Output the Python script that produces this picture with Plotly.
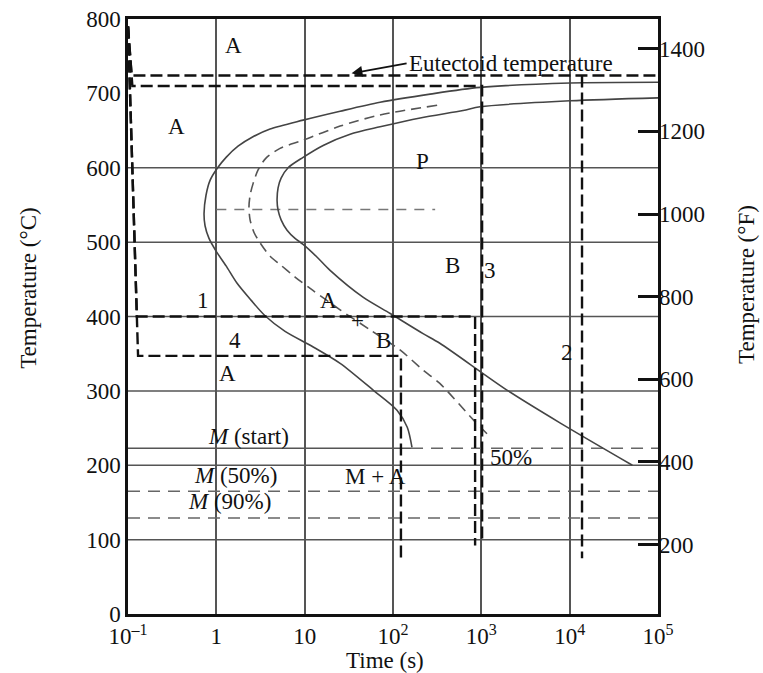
import math
import plotly.graph_objects as go

# ---------------- data ----------------
# Transformation curves (time in s, temperature in °C)
start_t = [100000, 10100, 968, 263, 71.4, 25.2, 9.6, 4.06, 2.54, 1.76, 1.29, 1.02, 0.849, 0.764, 0.726,
           0.745, 0.826, 0.993, 1.29, 1.71, 2.47, 3.56, 6.0, 12.1, 25.2, 59.6, 111, 145, 164]
start_T = [715, 714, 708, 699, 688, 676, 664, 652, 641, 629, 614, 599, 583, 563, 539,
           522, 505, 488, 468, 445, 422, 401, 380, 360, 337, 301, 274, 251, 224]

half_t = [316, 71.4, 25.2, 9.6, 5.26, 3.65, 2.97, 2.61, 2.41, 2.34, 2.41, 2.67, 3.13, 4.06, 5.26, 7.78,
          12.4, 25.2, 55, 120, 219, 339, 813, 1259]
half_T = [684, 671, 656, 637, 626, 613, 597, 579, 563, 547, 530, 513, 499, 481, 470, 453,
          435, 409, 382, 355, 328, 310, 261, 238]

finish_t = [100000, 10100, 968, 622, 203, 71.4, 32.7, 16.2, 9.6, 6.49, 5.41, 5.0, 4.87,
            5.0, 5.41, 6.32, 7.78, 9.6, 13.5, 19.4, 45.7, 93, 219, 339, 1950, 7760, 51300]
finish_T = [694, 690, 682, 677, 667, 655, 645, 630, 614, 600, 586, 573, 556,
            543, 530, 516, 505, 497, 481, 462, 426, 404, 377, 364, 301, 257, 200]

# Cooling paths
eut_t = [0.1, 0.11, 100000]
eut_T = [790, 724, 724]
path2_t = [13800, 13800]
path2_T = [724, 75]
path3_t = [0.1, 0.112, 1020, 1020]
path3_T = [790, 710, 710, 95]
path1_t = [0.1, 0.126, 850, 850]
path1_T = [790, 400, 400, 92]
path4_t = [0.1, 0.13, 123, 123]
path4_T = [790, 347, 347, 75]

# Martensite lines and isothermal 545 line
ms_solid_t = [0.1, 160]
ms_dash_t = [160, 100000]
ms_T = 223
m50_T = 165
m90_T = 129
iso545_t = [1, 300]
iso545_T = 544

grid_T = [100, 200, 300, 400, 500, 600]

x_tickvals = [0.1, 1, 10, 100, 1000, 10000, 100000]
x_ticktext = ["10<sup>–1</sup>", "1", "10", "10<sup>2</sup>", "10<sup>3</sup>", "10<sup>4</sup>", "10<sup>5</sup>"]
y_tickvals = [0, 100, 200, 300, 400, 500, 600, 700, 800]
f_tickvals = [200, 400, 600, 800, 1000, 1200, 1400]

labels = [
    ("A", 1.55, 765), ("A", 0.35, 656), ("P", 214, 609), ("B", 468, 468), ("3", 1260, 462),
    ("1", 0.71, 422), ("A", 18.4, 422), ("+", 40, 395), ("B", 78, 368), ("4", 1.62, 368),
    ("A", 1.35, 324), ("2", 9300, 352),
    ("<i>M</i> (start)", 2.3, 238), ("<i>M</i> (50%)", 1.66, 186), ("<i>M</i> (90%)", 1.4, 151),
    ("M + A", 63, 185), ("50%", 2140, 211),
]

FONT = "Liberation Serif, Times New Roman, serif"
FS = 23

fig = go.Figure()

def line(x, y, color="#444", width=1.5, dash="solid", yaxis="y", shape="linear"):
    fig.add_trace(go.Scatter(x=x, y=y, mode="lines", yaxis=yaxis,
                             line=dict(color=color, width=width, dash=dash, shape=shape, smoothing=0.8),
                             hoverinfo="skip", showlegend=False))

# horizontal gridlines
gx, gy = [], []
for T in grid_T:
    gx += [0.1, 100000, None]
    gy += [T, T, None]
line(gx, gy, color="#555", width=1.5)

# martensite lines
line(ms_solid_t, [ms_T, ms_T], color="#555", width=1.5)
line(ms_dash_t, [ms_T, ms_T], color="#666", width=1.5, dash="12px,8px")
line([0.1, 100000], [m50_T, m50_T], color="#666", width=1.5, dash="12px,8px")
line([0.1, 100000], [m90_T, m90_T], color="#666", width=1.5, dash="12px,8px")
line(iso545_t, [iso545_T, iso545_T], color="#777", width=1.5, dash="10px,8px")

# curves
line(start_t, start_T, color="#444", width=1.6, shape="spline")
line(half_t, half_T, color="#555", width=1.6, dash="10px,6px", shape="spline")
line(finish_t, finish_T, color="#444", width=1.6, shape="spline")

# cooling paths
for px, py in [(eut_t, eut_T), (path2_t, path2_T), (path3_t, path3_T), (path1_t, path1_T), (path4_t, path4_T)]:
    line(px, py, color="#111", width=2.4, dash="12px,5px")

# invisible trace to activate the right-hand °F axis
fig.add_trace(go.Scatter(x=[1], y=[900], yaxis="y2", mode="markers", marker=dict(opacity=0),
                         hoverinfo="skip", showlegend=False))

for txt, t, T in labels:
    fig.add_annotation(x=math.log10(t), y=T, text=txt, showarrow=False,
                       xanchor="center", yanchor="middle",
                       font=dict(family=FONT, size=FS, color="#111"))

fig.add_annotation(x=math.log10(34), y=727, ax=55, ay=-10, text="Eutectoid temperature",
                   showarrow=True, arrowhead=2, arrowsize=1.2, arrowwidth=1.8, arrowcolor="#111",
                   xanchor="left", font=dict(family=FONT, size=FS, color="#111"))

# axis titles
fig.add_annotation(xref="paper", yref="paper", x=-0.187, y=0.548, text="Temperature (°C)", textangle=-90,
                   xanchor="center", yanchor="middle",
                   showarrow=False, font=dict(family=FONT, size=FS, color="#111"))
fig.add_annotation(xref="paper", yref="paper", x=1.168, y=0.553, text="Temperature (°F)", textangle=-90,
                   xanchor="center", yanchor="middle",
                   showarrow=False, font=dict(family=FONT, size=FS, color="#111"))
fig.add_annotation(xref="paper", yref="paper", x=0.485, y=-0.078, text="Time (s)",
                   xanchor="center", yanchor="middle",
                   showarrow=False, font=dict(family=FONT, size=FS, color="#111"))

fig.update_layout(
    width=763, height=673,
    margin=dict(l=128, r=105, t=19, b=59, autoexpand=False),
    paper_bgcolor="white", plot_bgcolor="white",
    font=dict(family=FONT, size=FS, color="#111"),
    xaxis=dict(type="log", range=[-1, 5], tickvals=x_tickvals, ticktext=x_ticktext,
               showgrid=True, gridcolor="#555", gridwidth=1.5, zeroline=False,
               showline=True, linecolor="#111", linewidth=2.5, mirror=True, ticks="",
               tickfont=dict(family=FONT, size=FS, color="#111")),
    yaxis=dict(range=[0, 800], tickvals=y_tickvals, showgrid=False, zeroline=False,
               showline=True, linecolor="#111", linewidth=2.5, mirror=True, ticks="",
               tickfont=dict(family=FONT, size=FS, color="#111")),
    yaxis2=dict(overlaying="y", side="right", range=[32, 1472], tickvals=f_tickvals,
                showgrid=False, zeroline=False, ticks="inside", ticklen=20, tickwidth=2.5,
                tickcolor="#111", showline=False,
                tickfont=dict(family=FONT, size=FS, color="#111")),
)

fig.write_html("out.html", config={"displayModeBar": False},
               post_script="document.body.style.margin='0px';")
